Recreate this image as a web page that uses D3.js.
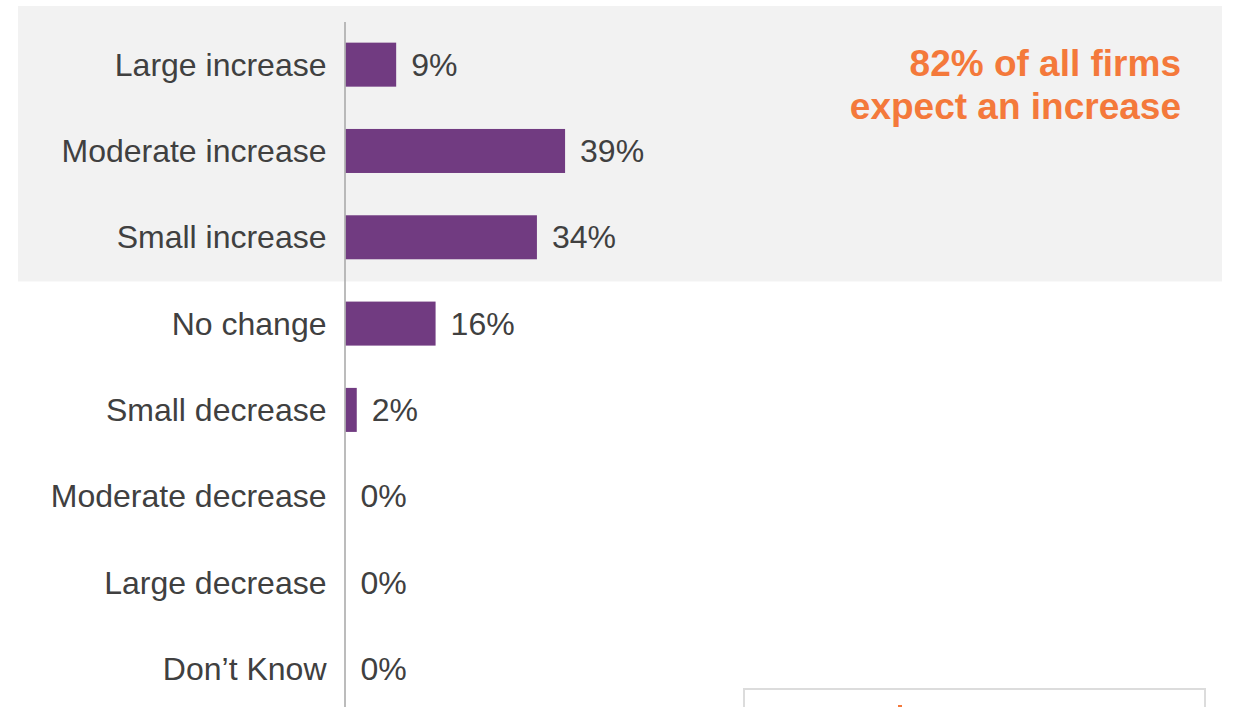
<!DOCTYPE html>
<html>
<head>
<meta charset="utf-8">
<script src="https://cdn.jsdelivr.net/npm/d3@7"></script>
<style>
  html, body { margin: 0; padding: 0; background: #ffffff; }
  svg { display: block; font-family: "Liberation Sans", Arial, sans-serif; }
</style>
</head>
<body>
<svg id="chart" width="1233" height="707"></svg>
<script>
// Expected change in firm activity: share of responses per category
const categories = [
  "Large increase",
  "Moderate increase",
  "Small increase",
  "No change",
  "Small decrease",
  "Moderate decrease",
  "Large decrease",
  "Don\u2019t Know"
];
const shares = [9, 39, 34, 16, 2, 0, 0, 0];
const increaseCategories = ["Large increase", "Moderate increase", "Small increase"];
const calloutLines = ["82% of all firms", "expect an increase"];

const svg = d3.select("#chart");
const W = 1233, H = 707;

const y = d3.scaleBand()
  .domain(categories)
  .range([21.5, 712])
  .paddingInner(0.49)
  .paddingOuter(0.245);

const x = d3.scaleLinear()
  .domain([0, 100])
  .range([345.5, 908.5]);

// shaded panel behind the "increase" rows
const lastInc = increaseCategories[increaseCategories.length - 1];
svg.append("rect")
  .attr("x", 18)
  .attr("y", 6)
  .attr("width", 1222 - 18)
  .attr("height", y(lastInc) + y.bandwidth() + (y.step() - y.bandwidth()) / 2 - 5)
  .attr("fill", "#f2f2f2");

// bars
svg.append("g")
  .selectAll("rect")
  .data(categories.map((c, i) => ({ c, v: shares[i] })))
  .join("rect")
  .attr("x", x(0))
  .attr("y", d => y(d.c))
  .attr("width", d => x(d.v) - x(0))
  .attr("height", y.bandwidth())
  .attr("fill", "#713b81");

// category axis line
svg.append("line")
  .attr("x1", x(0) - 0.5).attr("x2", x(0) - 0.5)
  .attr("y1", 22).attr("y2", H)
  .attr("stroke", "#a6a6a6")
  .attr("stroke-width", 1.5);

// category labels
svg.append("g")
  .selectAll("text")
  .data(categories)
  .join("text")
  .attr("x", x(0) - 19)
  .attr("y", d => y(d) + y.bandwidth() / 2)
  .attr("dy", "0.35em")
  .attr("text-anchor", "end")
  .attr("font-size", 32)
  .attr("fill", "#404040")
  .text(d => d);

// value labels
svg.append("g")
  .selectAll("text")
  .data(categories.map((c, i) => ({ c, v: shares[i] })))
  .join("text")
  .attr("x", d => x(d.v) + 15)
  .attr("y", d => y(d.c) + y.bandwidth() / 2)
  .attr("dy", "0.35em")
  .attr("font-size", 32)
  .attr("fill", "#404040")
  .text(d => d.v + "%");

// callout
svg.append("text")
  .attr("x", 1181)
  .attr("y", 76)
  .attr("text-anchor", "end")
  .attr("font-size", 37)
  .attr("font-weight", "bold")
  .attr("fill", "#f4793b")
  .selectAll("tspan")
  .data(calloutLines)
  .join("tspan")
  .attr("x", 1181)
  .attr("dy", (d, i) => i === 0 ? 0 : 43)
  .text(d => d);

// box peeking in at the bottom right
svg.append("rect")
  .attr("x", 744)
  .attr("y", 689)
  .attr("width", 1205 - 744)
  .attr("height", 40)
  .attr("fill", "none")
  .attr("stroke", "#dcdcdc")
  .attr("stroke-width", 2);

svg.append("rect")
  .attr("x", 898)
  .attr("y", 705)
  .attr("width", 4)
  .attr("height", 2)
  .attr("fill", "#f4793b");
</script>
</body>
</html>
